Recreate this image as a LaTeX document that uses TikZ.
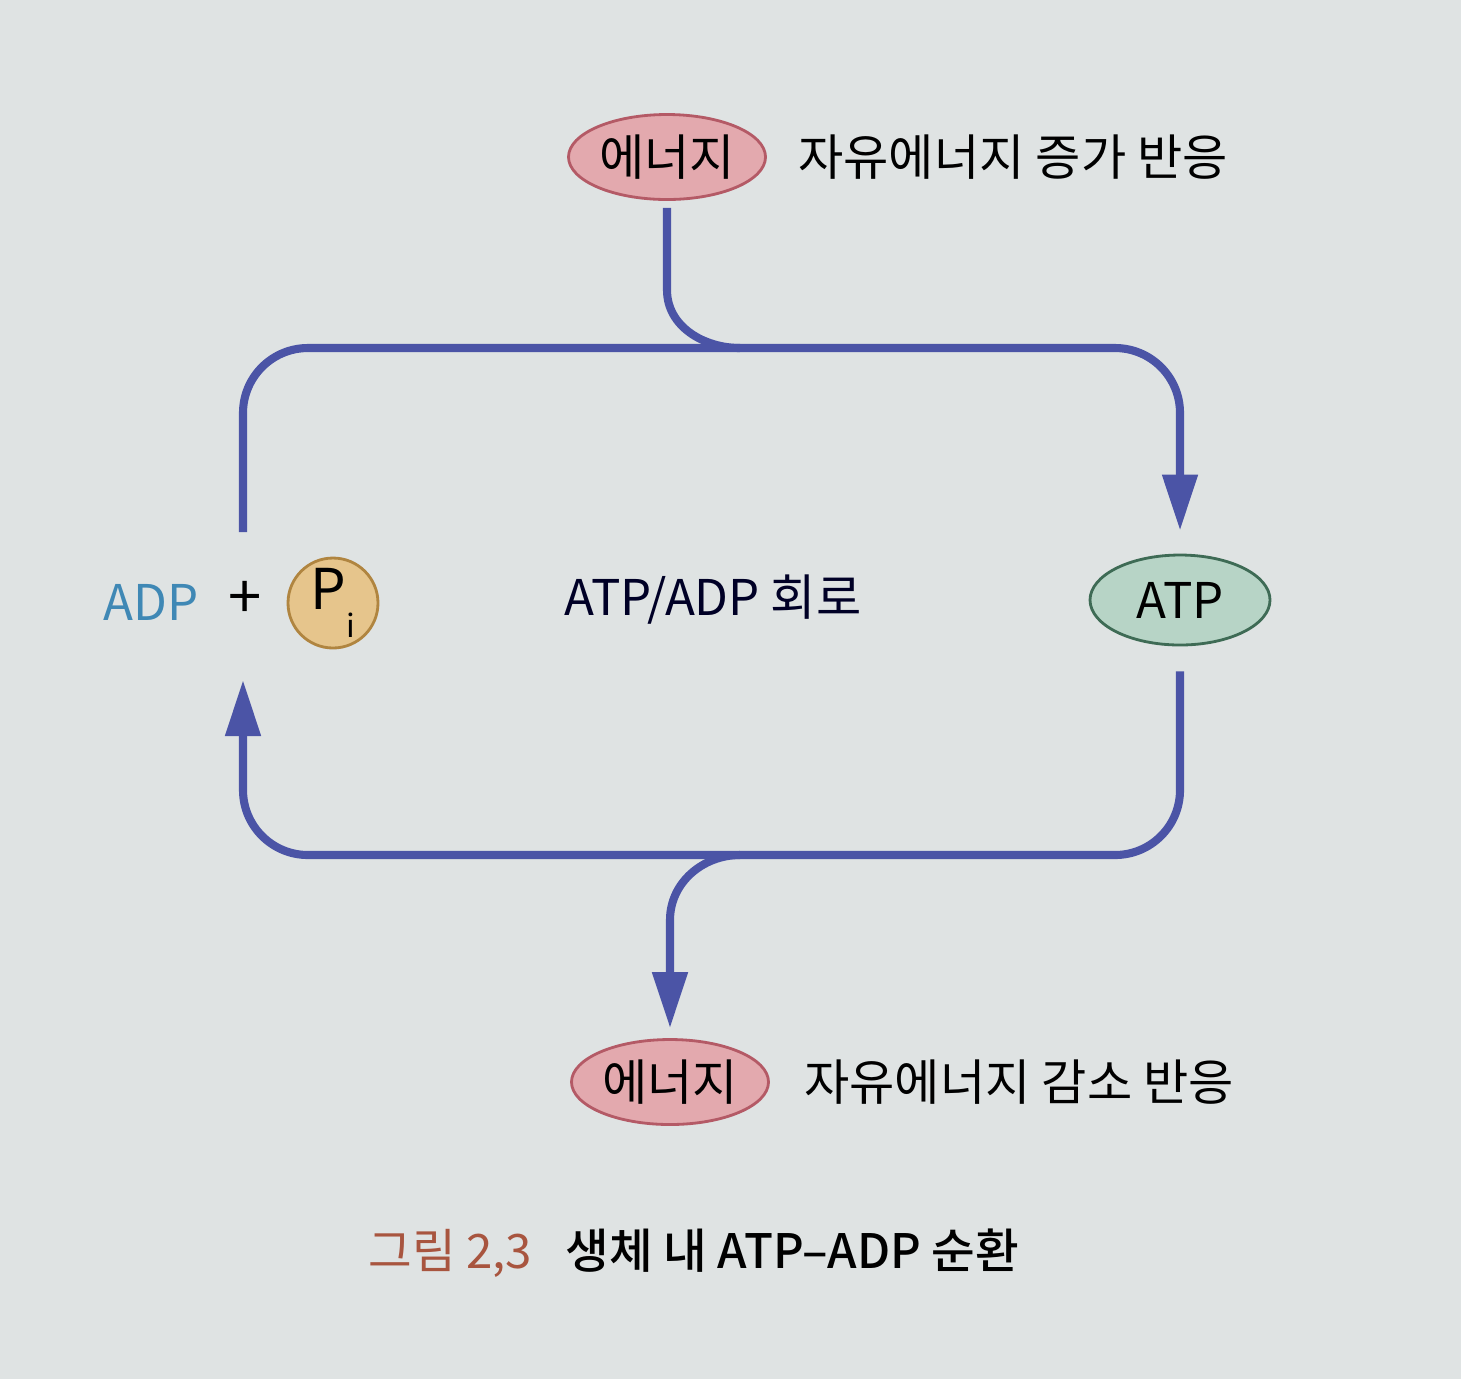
\documentclass[tikz,border=0pt]{standalone}
\usepackage{fontspec}
\setmainfont{Noto Sans CJK KR}
\newfontfamily\capfont{Noto Sans CJK KR}[UprightFont=* Medium]
\usetikzlibrary{arrows.meta,shapes.geometric,positioning}
\definecolor{pageBg}{HTML}{DFE3E3}
\definecolor{cycleBlue}{HTML}{4B54A6}
\definecolor{energyFill}{HTML}{E3A9AE}
\definecolor{energyDraw}{HTML}{B45A66}
\definecolor{atpFill}{HTML}{B7D4C6}
\definecolor{atpDraw}{HTML}{3E6B55}
\definecolor{piFill}{HTML}{E6C58C}
\definecolor{piDraw}{HTML}{B08540}
\definecolor{adpBlue}{HTML}{3F88B5}
\definecolor{figRed}{HTML}{A8553F}
\newcommand{\labelSize}{\fontsize{14}{17}\selectfont}
\newcommand{\cornerRadius}{6.5mm}
\newcommand{\cycleTip}{Triangle[width=3.4mm,length=5.6mm]}

\begin{document}
\begin{tikzpicture}[
    font=\labelSize,
    cycleline/.style={draw=cycleBlue, line width=2.3pt},
    energy/.style={ellipse, draw=energyDraw, fill=energyFill, line width=0.8pt,
      minimum width=1.97cm, minimum height=0.85cm, inner sep=0pt},
    atpbox/.style={ellipse, draw=atpDraw, fill=atpFill, line width=0.8pt,
      minimum width=1.80cm, minimum height=0.90cm, inner sep=0pt},
    pibox/.style={circle, draw=piDraw, fill=piFill, line width=0.8pt,
      minimum size=0.90cm, inner sep=0pt}]
\fill[pageBg] (0,0) rectangle (14.61,-13.79);
\useasboundingbox (0,0) rectangle (14.61,-13.79);

% energy in / out
\node[energy] (etop) at (6.67,-1.57) {에너지};
\node[anchor=west] (ltop) at (7.86,-1.57) {자유에너지 증가 반응};
\node[energy] (ebot) at (6.70,-10.82) {에너지};
\node[anchor=west] (lbot) at (7.92,-10.82) {자유에너지 감소 반응};

% cycle members
\node[atpbox] (atp) at (11.80,-6.00) {ATP};
\node[text=adpBlue] (adp) at (1.51,-6.02) {ADP};
\node[font=\fontsize{17}{17}\selectfont] (plus) at (2.45,-6.00) {+};
\node[pibox] (pi) at (3.33,-6.03) {\fontsize{16}{16}\selectfont P\raisebox{-0.9ex}{\fontsize{9}{9}\selectfont i}};
\node[text=black!85!blue] (cyc) at (7.13,-6.00) {ATP/ADP 회로};

\coordinate (lstart) at (2.43,-5.32);
\coordinate (topL) at (2.43,-3.48);
\coordinate (jtop) at (7.40,-3.48);
\coordinate (botR) at (atp.south |- 0,-8.55);
\coordinate (ltip) at (2.43,-6.80);
\coordinate (jbot) at (7.40,-8.55);

\draw[cycleline, rounded corners=\cornerRadius, -{\cycleTip}]
  (lstart) -- (topL) -| ([yshift=2.3mm]atp.north);
\draw[cycleline, rounded corners=\cornerRadius, -{\cycleTip}]
  ([yshift=-2.5mm]atp.south) -- (botR) -| (ltip);
\draw[cycleline] ([yshift=-0.7mm]etop.south) -- (etop.south |- 0,-2.9)
  to[out=-90,in=180] (jtop);
\draw[cycleline, -{\cycleTip}] (jbot) to[out=180,in=90] (ebot.north |- 0,-9.2)
  -- ([yshift=1mm]ebot.north);

% caption
\node[anchor=west, font=\capfont\fontsize{13.5}{16}\selectfont] (cap) at (3.56,-12.53)
  {\textcolor{figRed}{\rmfamily 그림 2,3}\hspace{0.7em}생체 내 ATP–ADP 순환};
\end{tikzpicture}
\end{document}
